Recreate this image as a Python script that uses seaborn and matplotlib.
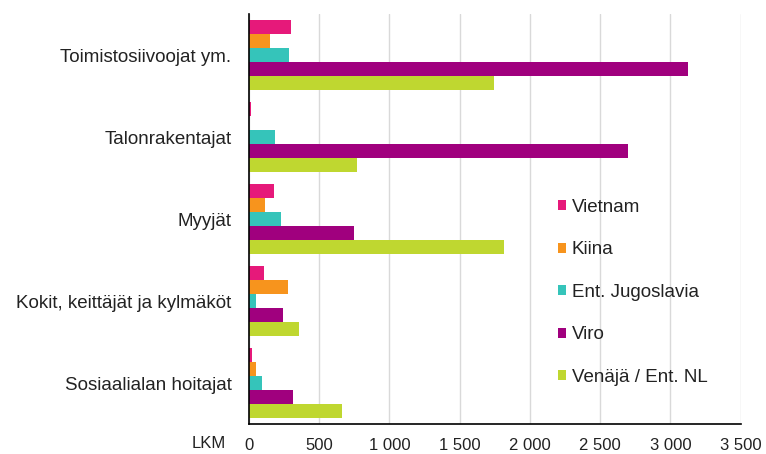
import numpy as np
import pandas as pd
import matplotlib.pyplot as plt
import seaborn as sns

# Ammatit ja maat (LKM)
ammatit = ['Toimistosiivoojat ym.', 'Talonrakentajat', 'Myyjät',
           'Kokit, keittäjät ja kylmäköt', 'Sosiaalialan hoitajat']
maat = ['Vietnam', 'Kiina', 'Ent. Jugoslavia', 'Viro', 'Venäjä / Ent. NL']

vietnam = [300, 15, 177, 105, 25]
kiina = [151, 0, 117, 279, 48]
jugoslavia = [288, 184, 231, 48, 96]
viro = [3128, 2695, 746, 243, 312]
venaja = [1746, 767, 1817, 357, 665]

colors = ['#E6197A', '#F7941D', '#35C4BA', '#A0007E', '#BFD730']
xticks = [0, 500, 1000, 1500, 2000, 2500, 3000, 3500]

df = pd.DataFrame({'Vietnam': vietnam, 'Kiina': kiina, 'Ent. Jugoslavia': jugoslavia,
                   'Viro': viro, 'Venäjä / Ent. NL': venaja}, index=ammatit)
long = df.reset_index().melt(id_vars='index', var_name='maa', value_name='lkm')
long = long.rename(columns={'index': 'ammatti'})

sns.set_style('white')
plt.rcParams['font.family'] = ['Liberation Sans', 'DejaVu Sans']

fig = plt.figure(figsize=(7.66, 4.54), dpi=100)
ax = fig.add_axes([0.325, 0.066, 0.642, 0.903])

sns.barplot(data=long, y='ammatti', x='lkm', hue='maa', order=ammatit,
            hue_order=maat, palette=colors, orient='h', width=0.854,
            linewidth=0, saturation=1, ax=ax)

ax.set_xlim(0, 3500)
ax.set_ylim(4.5, -0.5)
ax.set_xticks(xticks)
ax.set_xticklabels([f'{v:,}'.replace(',', ' ') for v in xticks])
ax.xaxis.grid(True, color='#D9D9D9', linewidth=1)
ax.set_axisbelow(True)
ax.set_xlabel('')
ax.set_ylabel('')
ax.tick_params(axis='both', length=0, colors='#222222')
ax.tick_params(axis='y', pad=12.5, labelsize=13.5)
ax.tick_params(axis='x', pad=10, labelsize=12)

for s in ['top', 'right']:
    ax.spines[s].set_visible(False)
for s in ['left', 'bottom']:
    ax.spines[s].set_color('black')
    ax.spines[s].set_linewidth(1.2)

fig.text(209 / 766, 1 - 443 / 454, 'LKM', fontsize=12, color='#222222',
         ha='center', va='center')

leg = ax.legend(loc='upper left', bbox_to_anchor=(0.628, 0.549), frameon=False,
                borderpad=0, borderaxespad=0,
                handlelength=0.43, handleheight=0.43, handletextpad=0.32,
                labelspacing=1.357, fontsize=13.5)
for t in leg.get_texts():
    t.set_color('#222222')

fig.savefig('out.png', dpi=100)
